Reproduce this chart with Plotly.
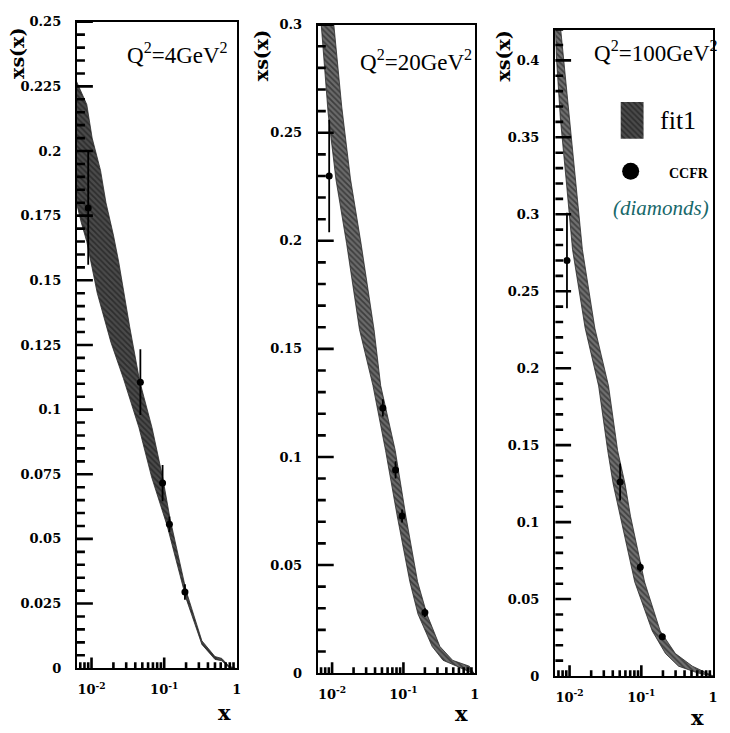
import plotly.graph_objects as go

# ---- fit1 error band: upper / lower edges, per Q^2 ----
q2_labels = ["Q<sup>2</sup>=4GeV<sup>2</sup>", "Q<sup>2</sup>=20GeV<sup>2</sup>", "Q<sup>2</sup>=100GeV<sup>2</sup>"]

up1_x = [0.0062, 0.0086, 0.0102, 0.0133, 0.0158, 0.020, 0.0237, 0.0335, 0.046, 0.068, 0.095, 0.12, 0.20, 0.33, 0.50, 0.62, 0.78, 0.95]
up1_y = [0.227, 0.218, 0.205, 0.1925, 0.180, 0.1675, 0.157, 0.132, 0.111, 0.093, 0.074, 0.058, 0.030, 0.0106, 0.0045, 0.0038, 0.0008, 0.0]
lo1_x = [0.0062, 0.0072, 0.0086, 0.012, 0.0185, 0.0275, 0.045, 0.067, 0.11, 0.14, 0.20, 0.33, 0.50, 0.62, 0.78, 0.95]
lo1_y = [0.180, 0.1725, 0.165, 0.145, 0.126, 0.112, 0.093, 0.074, 0.055, 0.044, 0.027, 0.0092, 0.0034, 0.0029, 0.0003, 0.0]

up2_x = [0.0062, 0.0105, 0.01365, 0.0181, 0.0255, 0.0387, 0.048, 0.0768, 0.108, 0.158, 0.213, 0.325, 0.49, 0.84, 0.97]
up2_y = [0.36, 0.301, 0.262, 0.2286, 0.1986, 0.159, 0.133, 0.103, 0.0727, 0.0423, 0.0273, 0.0123, 0.0059, 0.0032, 0.0]
lo2_x = [0.0062, 0.007, 0.0088, 0.0113, 0.016, 0.0242, 0.0374, 0.0562, 0.0818, 0.123, 0.160, 0.253, 0.36, 0.56, 0.85, 0.97]
lo2_y = [0.32, 0.301, 0.259, 0.2286, 0.1986, 0.159, 0.133, 0.103, 0.0727, 0.0423, 0.0273, 0.0123, 0.0059, 0.0032, 0.0005, 0.0]

up3_x = [0.0062, 0.0075, 0.0081, 0.0102, 0.01245, 0.0151, 0.0225, 0.0349, 0.0467, 0.0593, 0.0707, 0.111, 0.183, 0.298, 0.515, 1.0]
up3_y = [0.46, 0.421, 0.4045, 0.3618, 0.319, 0.277, 0.226, 0.1885, 0.1465, 0.1248, 0.1038, 0.0611, 0.0293, 0.0146, 0.0064, 0.0]
lo3_x = [0.0062, 0.0066, 0.00746, 0.0091, 0.011, 0.0165, 0.0254, 0.034, 0.0405, 0.0516, 0.081, 0.142, 0.217, 0.33, 0.62, 1.0]
lo3_y = [0.43, 0.40, 0.3618, 0.319, 0.277, 0.226, 0.1885, 0.1465, 0.1248, 0.1038, 0.0611, 0.0293, 0.0146, 0.0064, 0.0019, 0.0]

# ---- CCFR data points ----
ccfr1_x = [0.009, 0.047, 0.095, 0.118, 0.193]
ccfr1_y = [0.178, 0.1106, 0.0716, 0.0557, 0.0295]
ccfr1_e = [0.022, 0.0127, 0.007, 0.003, 0.003]

ccfr2_x = [0.0091, 0.0515, 0.0776, 0.0957, 0.200]
ccfr2_y = [0.230, 0.1227, 0.094, 0.0727, 0.028]
ccfr2_e = [0.026, 0.004, 0.004, 0.003, 0.002]

ccfr3_x = [0.0092, 0.0506, 0.0966, 0.196]
ccfr3_y = [0.270, 0.126, 0.0707, 0.0255]
ccfr3_e = [0.031, 0.012, 0.003, 0.002]

y_max = [0.25, 0.30, 0.42]
y_major = [0.025, 0.05, 0.05]
y_minor = [0.005, 0.01, 0.01]

W, H = 730, 733
LOG_LO, LOG_HI = -2.2, 0.0
x_dom = [[0.1062, 0.3267], [0.4384, 0.6548], [0.7658, 0.9836]]
y_dom = [[0.0791, 0.9795], [0.0723, 0.9754], [0.0682, 0.9686]]

bands = [(up1_x, up1_y, lo1_x, lo1_y), (up2_x, up2_y, lo2_x, lo2_y), (up3_x, up3_y, lo3_x, lo3_y)]
points = [(ccfr1_x, ccfr1_y, ccfr1_e), (ccfr2_x, ccfr2_y, ccfr2_e), (ccfr3_x, ccfr3_y, ccfr3_e)]
band_bg = ["#4a4a4a", "#6a6a6a", "#707070"]

SERIF = "Liberation Serif"
BOLD = "DejaVu Serif"
hatch = dict(shape="\\", fgcolor="#101010", size=4, solidity=0.45)

fig = go.Figure()

for i in range(3):
    xa = "x" if i == 0 else f"x{i+1}"
    ya = "y" if i == 0 else f"y{i+1}"
    ux, uy, lx, ly = bands[i]
    fig.add_trace(go.Scatter(
        x=ux + lx[::-1], y=uy + ly[::-1], xaxis=xa, yaxis=ya,
        mode="lines", fill="toself", fillcolor=band_bg[i],
        fillpattern=dict(hatch, bgcolor=band_bg[i]),
        line=dict(color="#2a2a2a", width=0.8), showlegend=False, hoverinfo="skip"))
    px_, py_, pe_ = points[i]
    fig.add_trace(go.Scatter(
        x=px_, y=py_, xaxis=xa, yaxis=ya, mode="markers",
        marker=dict(color="black", size=7),
        error_y=dict(type="data", array=pe_, width=0, thickness=1.8, color="black"),
        showlegend=False))

    # inward tick marks along the left and bottom frame edges (PAW style)
    wpx = (x_dom[i][1] - x_dom[i][0]) * W
    hpx = (y_dom[i][1] - y_dom[i][0]) * H
    dec_per_px = (LOG_HI - LOG_LO) / wpx
    val_per_px = y_max[i] / hpx
    tx, ty = [], []
    n = round(y_max[i] / y_minor[i])
    per = round(y_major[i] / y_minor[i])
    for k in range(1, n + 1):
        v = k * y_minor[i]
        L = 16 if k % per == 0 else 8
        tx += [10 ** LOG_LO, 10 ** (LOG_LO + L * dec_per_px), None]
        ty += [v, v, None]
    xt = [(10.0 ** e, 11) for e in (-2, -1)]
    xt += [(k * 10.0 ** e, 6) for e in (-3, -2, -1) for k in range(2, 10) if k * 10.0 ** e > 0.0064]
    for v, L in xt:
        tx += [v, v, None]
        ty += [0, L * val_per_px, None]
    fig.add_trace(go.Scatter(x=tx, y=ty, xaxis=xa, yaxis=ya, mode="lines",
                             line=dict(color="black", width=2.6), showlegend=False, hoverinfo="skip"))

# legend box of the third panel (fit1 swatch and CCFR dot)
leg_box_x = [0.0516, 0.1074]
leg_box_y = [0.349, 0.373]
leg_dot = (0.071, 0.328)
fig.add_trace(go.Scatter(
    x=[leg_box_x[0], leg_box_x[1], leg_box_x[1], leg_box_x[0], leg_box_x[0]],
    y=[leg_box_y[0], leg_box_y[0], leg_box_y[1], leg_box_y[1], leg_box_y[0]],
    xaxis="x3", yaxis="y3", mode="lines", fill="toself", fillcolor=band_bg[0],
    fillpattern=dict(hatch, bgcolor=band_bg[0]),
    line=dict(width=0), showlegend=False, hoverinfo="skip"))
fig.add_trace(go.Scatter(
    x=[leg_dot[0]], y=[leg_dot[1]], xaxis="x3", yaxis="y3", mode="markers",
    marker=dict(color="black", size=17), showlegend=False))

layout = dict(
    width=W, height=H, margin=dict(l=0, r=0, t=0, b=0),
    paper_bgcolor="white", plot_bgcolor="white", showlegend=False,
)
for i in range(3):
    sfx = "" if i == 0 else str(i + 1)
    layout["xaxis" + sfx] = dict(
        type="log", range=[LOG_LO, LOG_HI], domain=x_dom[i], anchor="y" + sfx,
        showline=True, linecolor="black", linewidth=2.4, mirror=True, ticks="",
        tickvals=[0.01, 0.1, 1], ticktext=["10<sup>-2</sup>", "10<sup>-1</sup>", "1"],
        showgrid=False, zeroline=False, ticklabelstandoff=8,
        tickfont=dict(family=BOLD, size=13, color="black", weight="bold"),
    )
    layout["yaxis" + sfx] = dict(
        range=[0, y_max[i]], domain=y_dom[i], anchor="x" + sfx, dtick=y_major[i], tick0=0,
        showline=True, linecolor="black", linewidth=2.4, mirror=True, ticks="",
        showgrid=False, zeroline=False, ticklabelstandoff=11,
        tickfont=dict(family=BOLD, size=13, color="black", weight="bold"),
    )
fig.update_layout(**layout)

ann = []
# panel titles
title_pos = [(0.245, 1 - 47 / 733), (0.574, 1 - 55 / 733), (0.905, 1 - 45 / 733)]
for i in range(3):
    ann.append(dict(text=q2_labels[i], x=title_pos[i][0], y=title_pos[i][1], xref="paper", yref="paper",
                    showarrow=False, font=dict(family=SERIF, size=23, color="black"), xanchor="center", yanchor="middle"))
# y-axis titles
for xp, yp in [(17, 47), (263, 50), (506, 50)]:
    ann.append(dict(text="<b>xs(x)</b>", x=xp / W, y=1 - yp / H, xref="paper", yref="paper", textangle=-90,
                    xanchor="center", yanchor="middle",
                    showarrow=False, font=dict(family=BOLD, size=19, color="black")))
# x-axis titles
for xp, yp in [(226, 720), (465, 721), (702, 725)]:
    ann.append(dict(text="<b>x</b>", x=xp / W, y=1 - yp / H, xref="paper", yref="paper",
                    xanchor="center", yanchor="middle",
                    showarrow=False, font=dict(family=BOLD, size=21, color="black")))
# legend labels (x in log10 units of the third panel)
ann.append(dict(text="fit1", x=-0.762, y=0.361, xref="x3", yref="y3", xanchor="left", yanchor="middle", showarrow=False,
                font=dict(family=SERIF, size=26, color="black")))
ann.append(dict(text="<b>CCFR</b>", x=-0.637, y=0.3265, xref="x3", yref="y3", xanchor="left", yanchor="middle", showarrow=False,
                font=dict(family=SERIF, size=14, color="black")))
ann.append(dict(text="<i>(diamonds)</i>", x=-1.425, y=0.304, xref="x3", yref="y3", xanchor="left", yanchor="middle", showarrow=False,
                font=dict(family=SERIF, size=21, color="#17686a")))
fig.update_layout(annotations=ann)

fig.write_html("out.html")
